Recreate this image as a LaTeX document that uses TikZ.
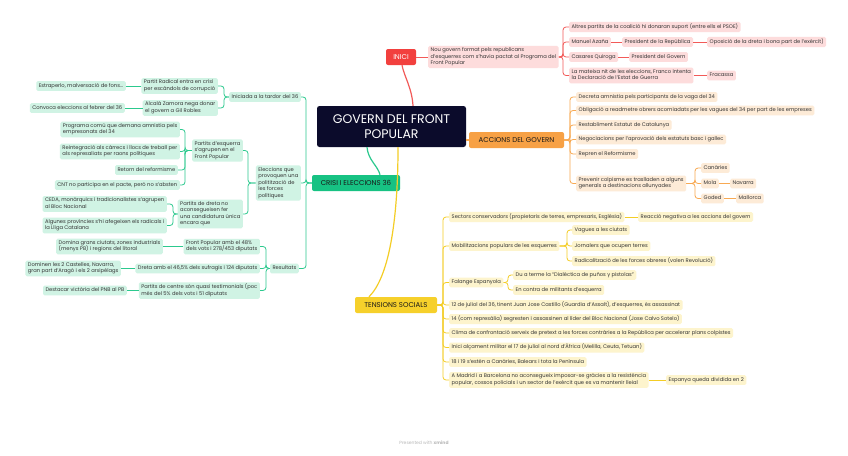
\documentclass[tikz,border=0pt]{standalone}
\usepackage{fontspec}
\setmainfont{Poppins}
\usetikzlibrary{calc}
\definecolor{navy}{HTML}{0B0B2B}
\definecolor{redm}{HTML}{F2403E}
\definecolor{redl}{HTML}{FDDCDC}
\definecolor{redln}{HTML}{F25A58}
\definecolor{orm}{HTML}{F7A145}
\definecolor{orl}{HTML}{FDEBD7}
\definecolor{orln}{HTML}{F8A952}
\definecolor{grm}{HTML}{17C283}
\definecolor{grl}{HTML}{D0F3E4}
\definecolor{grln}{HTML}{2CC98E}
\definecolor{yem}{HTML}{F6D02B}
\definecolor{yel}{HTML}{FDF4CD}
\definecolor{yeln}{HTML}{F4CD25}
\tikzset{
 leaf/.style={rounded corners=1.5pt, inner xsep=2.5pt, inner ysep=1.6pt, align=left,
   font=\fontsize{5.2}{6.5}\selectfont, text=black!80, execute at begin node=\strut},
 rl/.style={leaf, fill=redl}, ol/.style={leaf, fill=orl},
 gl/.style={leaf, fill=grl}, yl/.style={leaf, fill=yel},
 br/.style={rounded corners=2pt, inner sep=0pt, font=\fontsize{7}{8}\selectfont, minimum height=16pt},
 rc/.style={draw=redln, line width=0.8pt, rounded corners=3pt},
 oc/.style={draw=orln, line width=0.8pt, rounded corners=3pt},
 gc/.style={draw=grln, line width=0.8pt, rounded corners=3pt},
 yc/.style={draw=yeln, line width=0.8pt, rounded corners=3pt},
}
\begin{document}
\begin{tikzpicture}[x=1pt,y=-1pt]
\useasboundingbox (0,0) rectangle (848,455);
\fill[white] (0,0) rectangle (848,455);

% root
\node[fill=navy, text=white, rounded corners=2.5pt, minimum width=149pt, minimum height=41pt,
  align=center, inner sep=0pt, font=\fontsize{12.5}{14.5}\selectfont] (R) at (391.5,126.5) {GOVERN DEL FRONT\\POPULAR};

% ---------------- INICI
\node[br, fill=redm, text=white, minimum width=30pt] (I) at (401,57) {INICI};
\draw[draw=redln, line width=1.2pt] ([xshift=21.5pt]R.north) .. controls (412,88) and (404,76) .. ([xshift=1pt]I.south);
\node[rl, anchor=west] (N) at (428,57) {Nou govern format pels republicans\\d'esquerres com s'havia pactat al Programa del\\Front Popular};
\draw[rc] (I.east) -- (N.west);
\node[rl, anchor=west] (a1) at (569,27) {Altres partits de la coalició hi donaran suport (entre ells el PSOE)};
\node[rl, anchor=west] (a2) at (569,42) {Manuel Azaña};
\node[rl, anchor=west] (a2b) at (622,42) {President de la República};
\node[rl, anchor=west] (a2c) at (707,42) {Oposició de la dreta i bona part de l'exèrcit)};
\node[rl, anchor=west] (a3) at (569,57) {Casares Quiroga};
\node[rl, anchor=west] (a3b) at (629,57) {President del Govern};
\node[rl, anchor=west] (a4) at (569,75.5) {La mateixa nit de les eleccions, Franco intenta\\la Declaració de l'Estat de Guerra};
\node[rl, anchor=west] (a4b) at (707,75.5) {Fracassa};
\coordinate (nb) at (563,57);
\foreach \c in {a1,a2,a3,a4} \draw[rc] (N.east) -- (nb) |- (\c.west);
\draw[rc] (a2.east) -- (a2b.west);
\draw[rc] (a2b.east) -- (a2c.west);
\draw[rc] (a3.east) -- (a3b.west);
\draw[rc] (a4.east) -- (a4b.west);

% ---------------- ACCIONS
\node[br, fill=orm, text=black!90, minimum width=95pt] (C) at (516.5,140) {ACCIONS DEL GOVERN};
\draw[draw=orln, line width=1.2pt] (R.east |- C.west) -- (C.west);
\node[ol, anchor=west] (o1) at (576,97) {Decreta amnistia pels participants de la vaga del 34};
\node[ol, anchor=west] (o2) at (576,110.5) {Obligació a readmetre obrers acomiadats per les vagues del 34 per part de les empreses};
\node[ol, anchor=west] (o3) at (576,125) {Restabliment Estatut de Catalunya};
\node[ol, anchor=west] (o4) at (576,139.5) {Negociacions per l'aprovació dels estatuts basc i gallec};
\node[ol, anchor=west] (o5) at (576,154) {Repren el Reformisme};
\node[ol, anchor=west] (o6) at (576,183.5) {Prevenir colpisme es traslladen a alguns\\generals a destinacions allunyades};
\coordinate (cb) at (570,140);
\foreach \c in {o1,o2,o3,o4,o5,o6} \draw[oc] (C.east) -- (cb) |- (\c.west);
\node[ol, anchor=west] (o6a) at (701,168) {Canàries};
\node[ol, anchor=west] (o6b) at (701,183.5) {Mola};
\node[ol, anchor=west] (o6c) at (701,198.5) {Goded};
\node[ol, anchor=west] (o6b1) at (730,183.5) {Navarra};
\node[ol, anchor=west] (o6c1) at (736,198.5) {Mallorca};
\coordinate (ob) at (695,183.5);
\foreach \c in {o6a,o6b,o6c} \draw[oc] (o6.east) -- (ob) |- (\c.west);
\draw[oc] (o6b.east) -- (o6b1.west);
\draw[oc] (o6c.east) -- (o6c1.west);

% ---------------- CRISI
\node[br, fill=grm, text=black!90, minimum width=88pt] (G) at (356,183) {CRISI I ELECCIONS 36};
\draw[draw=grln, line width=1.2pt] ([xshift=-24.5pt]R.south) .. controls (368,160) and (378,166) .. ([xshift=24pt]G.north);
\node[gl, anchor=east] (g1) at (301,97) {Iniciada a la tardor del 36};
\node[gl, anchor=east] (g2) at (301,183) {Eleccions que\\provoquen una\\politització de\\les forces\\polítiques};
\node[gl, anchor=east] (g3) at (299,268.5) {Resultats};
\coordinate (gb) at (306,183);
\foreach \c in {g1,g2,g3} \draw[gc] (G.west) -- (gb) |- (\c.east);
% g1
\node[gl, anchor=east] (g1a) at (218,86) {Partit Radical entra en crisi\\per escàndols de corrupció};
\node[gl, anchor=east] (g1b) at (218,108) {Alcalà Zamora nega donar\\el govern a Gil Robles};
\coordinate (g1bus) at (224,97);
\foreach \c in {g1a,g1b} \draw[gc] (g1.west) -- (g1bus) |- (\c.east);
\node[gl, anchor=east] (g1a1) at (126,86) {Estraperlo, malversació de fons...};
\node[gl, anchor=east] (g1b1) at (125,108) {Convoca eleccions al febrer del 36};
\draw[gc] (g1a.west) -- (g1a1.east);
\draw[gc] (g1b.west) -- (g1b1.east);
% g2
\node[gl, anchor=east] (g2a) at (243,150.5) {Partits d'esquerra\\s'agrupen en el\\Front Popular};
\node[gl, anchor=east] (g2b) at (243,214) {Partits de dreta no\\aconsegueixen fer\\una candidatura única\\encara que};
\coordinate (g2bus) at (248,183);
\foreach \c in {g2a,g2b} \draw[gc] (g2.west) -- (g2bus) |- (\c.east);
\node[gl, anchor=east] (p1) at (180,129.5) {Programa comú que demana amnistia pels\\empresonats del 34};
\node[gl, anchor=east] (p2) at (180,151.5) {Reintegració als càrrecs i llocs de treball per\\als represaliats per raons polítiques};
\node[gl, anchor=east] (p3) at (178,170) {Retorn del reformisme};
\node[gl, anchor=east] (p4) at (180,185) {CNT no participa en el pacte, però no s'absten};
\coordinate (pbus) at (185,150.5);
\foreach \c in {p1,p2,p3,p4} \draw[gc] (g2a.west) -- (pbus) |- (\c.east);
\node[gl, anchor=east] (q1) at (167,204) {CEDA, monàrquics i tradicionalistes s'agrupen\\al Bloc Nacional};
\node[gl, anchor=east] (q2) at (167,225.5) {Algunes províncies s'hi afegeixen els radicals i\\la Lliga Catalana};
\coordinate (qbus) at (173,214);
\foreach \c in {q1,q2} \draw[gc] (g2b.west) -- (qbus) |- (\c.east);
% g3
\node[gl, anchor=east] (r1) at (260,246.5) {Front Popular amb el 48\%\\dels vots i 278/453 diputats};
\node[gl, anchor=east] (r2) at (260,268.5) {Dreta amb el 46,5\% dels sufragis i 124 diputats};
\node[gl, anchor=east] (r3) at (260,290.5) {Partits de centre són quasi testimonials (poc\\més del 5\% dels vots i 51 diputats};
\coordinate (rbus) at (266,268.5);
\foreach \c in {r1,r2,r3} \draw[gc] (g3.west) -- (rbus) |- (\c.east);
\node[gl, anchor=east] (r1a) at (163,246.5) {Domina grans ciutats, zones industrials\\(menys PB) i regions del litoral};
\node[gl, anchor=east] (r2a) at (121,268.5) {Dominen les 2 Castelles, Navarra,\\gran part d'Aragó i els 2 arxipèlags};
\node[gl, anchor=east] (r3a) at (127,290.5) {Destacar victòria del PNB al PB};
\draw[gc] (r1.west) -- (r1a.east);
\draw[gc] (r2.west) -- (r2a.east);
\draw[gc] (r3.west) -- (r3a.east);

% ---------------- TENSIONS
\node[br, fill=yem, text=black!90, minimum width=82pt] (T) at (396,305) {TENSIONS SOCIALS};
\draw[draw=yeln, line width=1.2pt] ([xshift=6.5pt]R.south) .. controls (398,225) and (388,278) .. ([xshift=-27pt]T.north);
\node[yl, anchor=west] (y1) at (449,217) {Sectors conservadors (propietaris de terres, empresaris, Església)};
\node[yl, anchor=west] (y2) at (449,246) {Mobilitzacions populars de les esquerres};
\node[yl, anchor=west] (y3) at (449,282.5) {Falange Espanyola};
\node[yl, anchor=west] (y4) at (449,305) {12 de juliol del 36, tinent Juan Jose Castillo (Guardia d'Assalt), d'esquerres, és assassinat};
\node[yl, anchor=west] (y5) at (449,319) {14 (com represàlia) segresten i assassinen al líder del Bloc Nacional (Jose Calvo Sotelo)};
\node[yl, anchor=west] (y6) at (449,333) {Clima de confrontació serveix de pretext a les forces contràries a la República per accelerar plans colpistes};
\node[yl, anchor=west] (y7) at (449,347.5) {Inici alçament militar el 17 de juliol al nord d'Àfrica (Melilla, Ceuta, Tetuan)};
\node[yl, anchor=west] (y8) at (449,362) {18 i 19 s'estén a Canàries, Balears i tota la Península};
\node[yl, anchor=west] (y9) at (449,380) {A Madrid i a Barcelona no aconsegueix imposar-se gràcies a la resistència\\popular, cossos policials i un sector de l'exèrcit que es va mantenir lleial};
\coordinate (tb) at (443,305);
\foreach \c in {y1,y2,y3,y4,y5,y6,y7,y8,y9} \draw[yc] (T.east) -- (tb) |- (\c.west);
\node[yl, anchor=west] (y1a) at (638,217) {Reacció negativa a les accions del govern};
\draw[yc] (y1.east) -- (y1a.west);
\node[yl, anchor=west] (m1) at (572,230) {Vagues a les ciutats};
\node[yl, anchor=west] (m2) at (572,246) {Jornalers que ocupen terres};
\node[yl, anchor=west] (m3) at (572,261) {Radicalització de les forces obreres (volen Revolució)};
\coordinate (mb) at (567,246);
\foreach \c in {m1,m2,m3} \draw[yc] (y2.east) -- (mb) |- (\c.west);
\node[yl, anchor=west] (f1) at (513,275) {Du a terme la “Dialéctica de puños y pistolas”};
\node[yl, anchor=west] (f2) at (513,290) {En contra de militants d'esquerra};
\coordinate (fb) at (508,282.5);
\foreach \c in {f1,f2} \draw[yc] (y3.east) -- (fb) |- (\c.west);
\node[yl, anchor=west] (y9a) at (666,380) {Espanya queda dividida en 2};
\draw[yc] (y9.east) -- (y9a.west);

% footer
\node[text=black!28, font=\fontsize{4.5}{5}\selectfont] (foot) at (424,443) {Presented with \textbf{xmind}};
\end{tikzpicture}
\end{document}
